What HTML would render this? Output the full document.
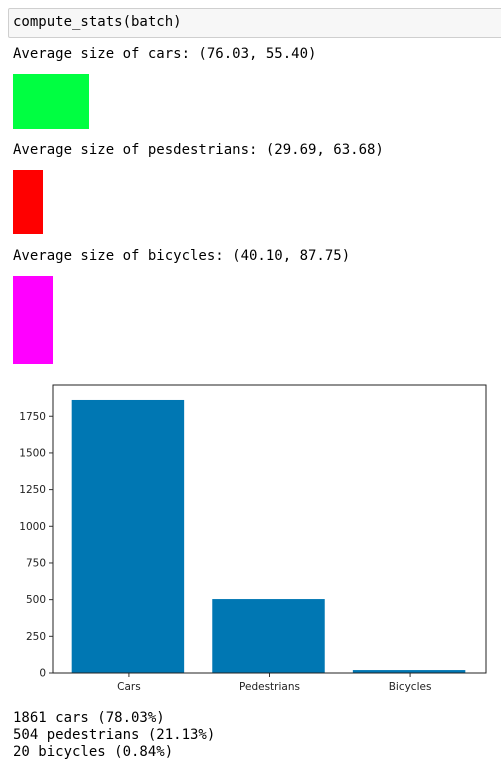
<!DOCTYPE html>
<html><head><meta charset="utf-8"><style>
html,body{margin:0;padding:0;width:501px;height:768px;background:#fff;overflow:hidden;position:relative}
.mono{font-family:"DejaVu Sans Mono","Liberation Mono",monospace;font-size:14px;color:#000;position:absolute;left:13px;white-space:pre;line-height:17px}
#incell{position:absolute;left:8px;top:8px;width:500px;height:28px;background:#f7f7f7;border:1px solid #cfcfcf;border-radius:2px}
.sw{position:absolute;left:13px}
</style></head><body>
<div id="incell"></div>
<div class="mono" style="top:14px">compute_stats(batch)</div>
<div class="mono" style="top:46px">Average size of cars: (76.03, 55.40)</div>
<div class="sw" style="top:74px;width:76px;height:55px;background:#00ff41"></div>
<div class="mono" style="top:142px">Average size of pesdestrians: (29.69, 63.68)</div>
<div class="sw" style="top:170px;width:30px;height:64px;background:#ff0000"></div>
<div class="mono" style="top:248px">Average size of bicycles: (40.10, 87.75)</div>
<div class="sw" style="top:276px;width:40px;height:88px;background:#ff00ff"></div>
<svg id="chart" width="501" height="320" style="position:absolute;left:0;top:375px"></svg>
<div class="mono" style="top:710px">1861 cars (78.03%)</div>
<div class="mono" style="top:727px">504 pedestrians (21.13%)</div>
<div class="mono" style="top:744px">20 bicycles (0.84%)</div>
<script>
const categories=["Cars","Pedestrians","Bicycles"];
const counts=[1861,504,20];
const yTicks=[0,250,500,750,1000,1250,1500,1750];
const NS="http://www.w3.org/2000/svg";
const svg=document.getElementById('chart');
const L=53,R=486,T=10,B=298;
const xMin=-0.54,xMax=2.54,yMax=1963;
const xs=v=>L+(v-xMin)/(xMax-xMin)*(R-L);
const ys=v=>B-v/yMax*(B-T);
function mk(t,a){const e=document.createElementNS(NS,t);for(const k in a)e.setAttribute(k,a[k]);svg.appendChild(e);return e;}
counts.forEach((c,i)=>{
 const r=mk('rect',{x:xs(i-0.4)-1,y:ys(c),width:xs(i+0.4)-xs(i-0.4),height:B-ys(c),fill:'#0077b3'});
 
 
 mk('line',{x1:xs(i),x2:xs(i),y1:B,y2:B+4,stroke:'#333','stroke-width':1});
 const t=mk('text',{x:xs(i),y:B+17,'text-anchor':'middle','font-family':'DejaVu Sans, Liberation Sans, sans-serif','font-size':10.5,fill:'#222'});
 t.textContent=categories[i];
 
 
});
yTicks.forEach(v=>{
 mk('line',{x1:L-4,x2:L,y1:ys(v),y2:ys(v),stroke:'#333','stroke-width':1});
 const t=mk('text',{x:L-7,y:ys(v)+3.5,'text-anchor':'end','font-family':'DejaVu Sans, Liberation Sans, sans-serif','font-size':10.5,fill:'#222'});
 t.textContent=v;
 
 
});
const f=mk('rect',{x:L,y:T,width:R-L,height:B-T,fill:'none',stroke:'#222','stroke-width':1});


</script>
</body></html>
